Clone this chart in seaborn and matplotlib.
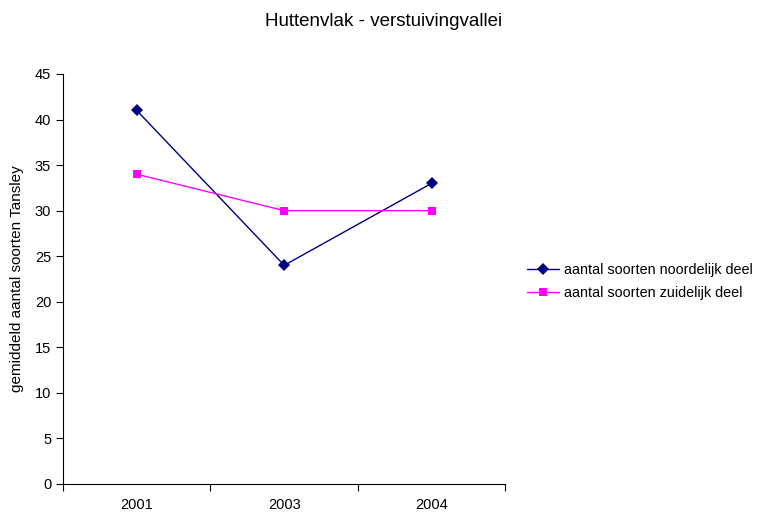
import pandas as pd
import seaborn as sns
import matplotlib.pyplot as plt

years = ["2001", "2003", "2004"]
noord = [41, 24, 33]
zuid = [34, 30, 30]
series_names = ["aantal soorten noordelijk deel", "aantal soorten zuidelijk deel"]

df = pd.DataFrame({
    "jaar": years * 2,
    "waarde": noord + zuid,
    "reeks": [series_names[0]] * 3 + [series_names[1]] * 3,
})

sns.set_style("white")
plt.rcParams["font.family"] = ["Liberation Sans", "DejaVu Sans"]
plt.rcParams["text.color"] = "black"
plt.rcParams["axes.labelcolor"] = "black"
plt.rcParams["xtick.color"] = "black"
plt.rcParams["ytick.color"] = "black"

fig = plt.figure(figsize=(7.68, 5.12), dpi=100)
ax = fig.add_axes([0.082, 0.0547, 0.576, 0.8008])

sns.lineplot(data=df, x="jaar", y="waarde", hue="reeks", style="reeks",
             markers=["D", "s"], dashes=False, markersize=6,
             palette=["#000080", "#ff00ff"], linewidth=1,
             markeredgewidth=0, ax=ax)

ax.set_xlim(-0.5, 2.5)
ax.set_ylim(0, 45)
ax.set_yticks(range(0, 46, 5))
ax.set_xticks([0, 1, 2])
ax.set_xticklabels(years)
ax.set_xticks([-0.5, 0.5, 1.5, 2.5], minor=True)
ax.tick_params(axis="x", which="major", length=0, pad=10, labelsize=10.5)
ax.tick_params(axis="x", which="minor", length=5, direction="out", color="black", width=0.8, bottom=True)
ax.tick_params(axis="y", length=5, direction="out", color="black", width=0.8, labelsize=10.5, left=True)
for side in ["top", "right"]:
    ax.spines[side].set_visible(False)
for side in ["left", "bottom"]:
    ax.spines[side].set_color("black")
    ax.spines[side].set_linewidth(0.8)

ax.set_xlabel("")
ax.set_ylabel("gemiddeld aantal soorten Tansley", fontsize=11, labelpad=8)
fig.suptitle("Huttenvlak - verstuivingvallei", fontsize=13.5, y=0.975)

ax.legend(loc="center left", bbox_to_anchor=(0.669, 0.45), bbox_transform=fig.transFigure,
          frameon=False, fontsize=10.4, handlelength=2.2, handletextpad=0.4, labelspacing=0.6)

fig.savefig("out.png", dpi=100)
